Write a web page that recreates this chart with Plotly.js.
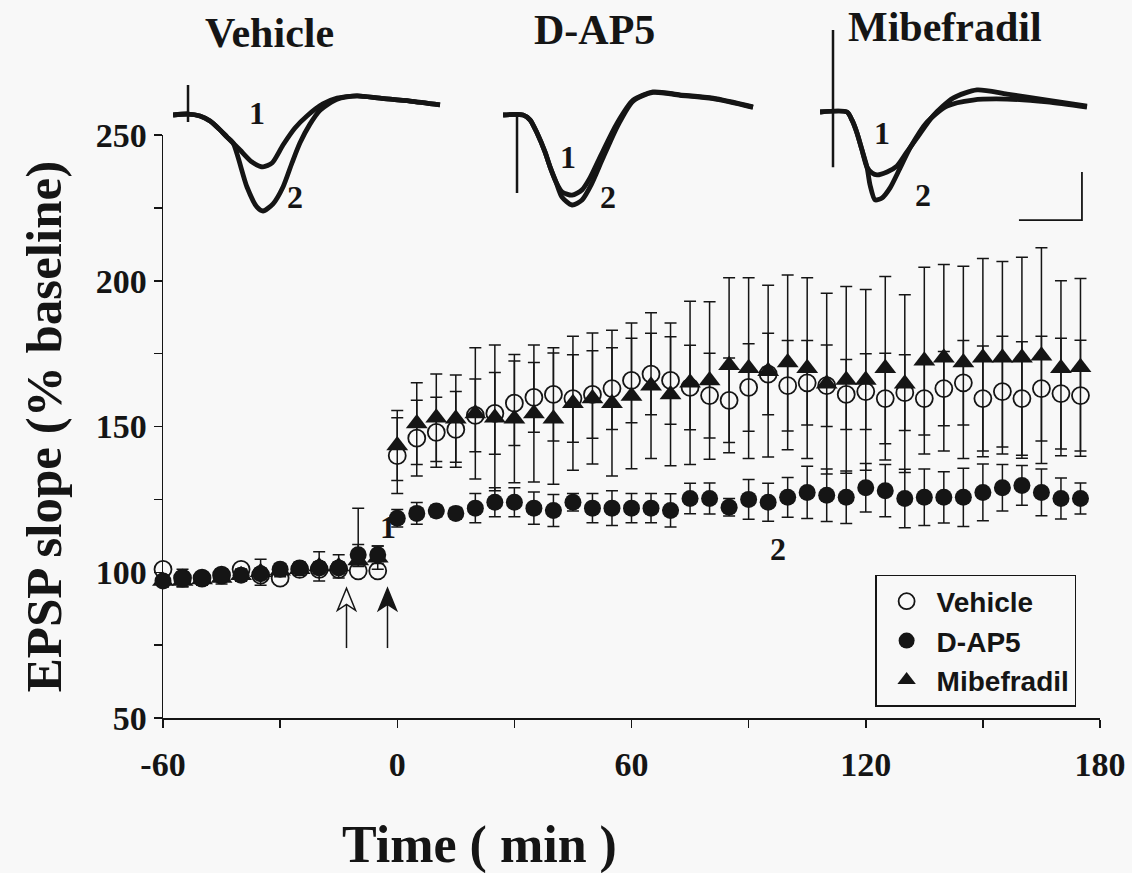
<!DOCTYPE html>
<html>
<head>
<meta charset="utf-8">
<script src="https://cdn.plot.ly/plotly-3.0.1.min.js"></script>
<style>
  html, body { margin: 0; padding: 0; background: #f8f8f8; }
  #chart { width: 1132px; height: 873px; }
</style>
</head>
<body>
<div id="chart"></div>
<script>
// Sampling times (min) relative to LTP induction
const timeMin = [-60, -55, -50, -45, -40, -35, -30, -25, -20, -15, -10, -5,
  0, 5, 10, 15, 20, 25, 30, 35, 40, 45, 50, 55, 60, 65, 70, 75, 80, 85, 90, 95,
  100, 105, 110, 115, 120, 125, 130, 135, 140, 145, 150, 155, 160, 165, 170, 175];

// EPSP slope, % of baseline (mean and SEM)
const vehicleMean = [101, 98, 98, 99, 101, 99, 98, 101, 101, 101, 100.5, 100.5,
  140, 146, 148, 149, 153.8, 154.5, 158, 160, 161, 159.6, 161, 163, 165.8, 168, 165.8, 163.4,
  160.6, 159, 163.4, 168, 164, 165, 164, 161, 162, 159.6, 161.6, 159.6, 163, 165, 159.6, 162,
  159.6, 163, 161.3, 160.6];
const vehicleSem = [2, 2, 2, 2, 2, 2, 2, 2, 2, 2, 2, 2,
  13, 13, 12, 13, 12.5, 14, 14.5, 12, 16, 15, 15, 14, 14.5, 14, 15, 14.5, 14.5, 14.5, 15, 14,
  15.5, 14.5, 14, 12, 13, 15.5, 13, 12.5, 12.7, 14.5, 18, 19, 19.5, 18, 19, 19];

const dap5Mean = [97, 98, 98, 99, 99, 99.5, 101, 101.5, 101.5, 101.5, 106, 106,
  118.5, 120.2, 121, 120.2, 122, 124, 124, 122, 121.2, 124, 122, 122, 122, 122, 121.2, 125.3,
  125.3, 122.3, 125, 124, 125.7, 127.4, 126.4, 125.7, 129, 128, 125.3, 125.7, 125.7, 125.7,
  127.4, 129, 129.8, 127.4, 125.3, 125.3];
const dap5Sem = [2, 3, 2, 2, 2, 2, 2, 2, 2, 2, 3.5, 3,
  3, 3.7, 2, 2, 5, 5, 5, 5.5, 5.5, 3, 5, 6, 5, 5, 5.7, 5.2, 5.3, 3, 6.8, 6.5, 6.8, 9, 9, 9,
  8.3, 9, 10, 9.7, 8.8, 10, 9.7, 8, 6.8, 8, 7, 5.3];

const mibefMean = [97, 97, 97.5, 98, 99, 100, 100.5, 101, 102, 102, 104, 105,
  143.5, 151, 153, 152.7, 154.5, 153, 152.7, 154.5, 152.7, 158, 159.6, 158, 160.5, 164, 161,
  165, 165.8, 171, 170, 169, 172, 170, 164.7, 166, 166, 170, 164.7, 172.6, 173.6, 172, 173.6,
  173.6, 173.6, 174.3, 170, 170.3];
// upper and lower SEM (the -10 min bar is drawn upward only)
const mibefSemUp = [2, 2, 2, 2, 2, 4.5, 2, 2, 5, 4, 18, 4,
  12, 14, 15, 15, 22.5, 25, 22, 23.5, 22.5, 23, 22.5, 25, 25, 25, 24.5, 28, 27, 30, 31, 29.5,
  30, 31, 31, 32, 31, 31.5, 30.5, 32, 32, 33, 34, 33, 34.5, 37, 30, 30.5];
const mibefSemDown = [2, 2, 2, 2, 2, 4.5, 2, 2, 5, 4, 2, 4,
  12, 14, 15, 15, 22.5, 25, 22, 23.5, 22.5, 23, 22.5, 25, 25, 25, 24.5, 28, 27, 30, 31, 29.5,
  30, 31, 31, 32, 31, 31.5, 30.5, 32, 32, 33, 34, 33, 34.5, 37, 30, 30.5];

// Axis tick labels
const xTickVals = [-60, 0, 60, 120, 180];
const xTickText = ['-60', '0', '60', '120', '180'];
const yTickVals = [50, 100, 150, 200, 250];

// Event markers: drug application (open arrow) and tetanus (filled arrow), min
const arrowTimes = [-13, -2.5];

// Example fEPSP sweeps (ms, mV): 1 = before, 2 = after induction
const vehSweep1Ms = [0, 1.19, 2.14, 2.94, 3.73, 4.29, 5.32, 6.27, 7.14, 7.86, 8.73, 9.68, 10.63, 11.9, 13.02, 14.6, 16.43, 18.81, 21.19];
const vehSweep1Mv = [0, 0.02, -0.02, -0.125, -0.31, -0.46, -0.73, -0.98, -1.08, -1.0, -0.625, -0.27, -0.02, 0.23, 0.35, 0.4, 0.35, 0.29, 0.21];
const vehSweep2Ms = [0, 1.19, 2.14, 2.94, 3.73, 4.29, 4.76, 5.87, 6.67, 7.14, 7.94, 8.73, 9.44, 10.08, 10.87, 11.67, 13.02, 14.6, 16.43, 18.81, 21.19];
const vehSweep2Mv = [0, 0.02, -0.02, -0.125, -0.31, -0.46, -0.58, -1.5, -1.92, -2.0, -1.85, -1.5, -1.0, -0.58, -0.19, 0.1, 0.33, 0.4, 0.35, 0.29, 0.21];
const vehArtifactMs = [1.19, 1.19];
const vehArtifactMv = [0.625, -0.146];

const dapSweep1Ms = [0, 1.59, 2.14, 2.7, 3.33, 3.73, 4.21, 4.68, 5.48, 6.27, 6.9, 7.7, 9.05, 10.32, 11.9, 14.05, 16.67, 19.84];
const dapSweep1Mv = [0, 0, -0.1, -0.375, -0.77, -1.08, -1.4, -1.6, -1.67, -1.56, -1.31, -0.875, -0.17, 0.31, 0.48, 0.42, 0.35, 0.17];
const dapSweep2Ms = [0, 1.59, 2.14, 2.7, 3.33, 3.73, 4.21, 4.68, 5.48, 6.27, 7.06, 7.86, 9.13, 10.32, 11.9, 14.05, 16.67, 19.84];
const dapSweep2Mv = [0, 0, -0.1, -0.375, -0.77, -1.08, -1.4, -1.71, -1.875, -1.77, -1.42, -0.94, -0.21, 0.29, 0.47, 0.41, 0.34, 0.16];
const dapArtifactMs = [1.11, 1.11];
const dapArtifactMv = [0, -1.625];

const mibSweep1Ms = [0, 2.14, 2.54, 2.94, 3.33, 3.73, 4.13, 4.52, 5.32, 6.11, 6.9, 7.7, 8.97, 10.56, 12.46, 14.84, 18.02, 21.19];
const mibSweep1Mv = [0, 0, -0.17, -0.44, -0.79, -1.15, -1.27, -1.31, -1.25, -1.125, -0.83, -0.54, -0.08, 0.29, 0.46, 0.375, 0.25, 0.125];
const mibSweep2Ms = [0, 2.14, 2.54, 2.94, 3.33, 3.73, 3.97, 4.37, 4.92, 5.56, 6.35, 7.14, 8.49, 10.08, 12.14, 14.84, 18.02, 21.19];
const mibSweep2Mv = [0, 0, -0.17, -0.44, -0.79, -1.15, -1.52, -1.83, -1.79, -1.58, -1.17, -0.75, -0.21, 0.125, 0.25, 0.27, 0.21, 0.1];
const mibArtifactMs = [1.03, 1.03];
const mibArtifactMv = [1.71, -1.15];

// Calibration bar: 5 ms, 1 mV
const scaleBarMs = 5;
const scaleBarMv = 1;
const scaleCornerMs = 20.79;
const scaleCornerMv = -2.25;

const INK = '#151515';
const BG = '#f8f8f8';
const SERIF = 'Liberation Serif, Times New Roman, serif';
const SANS = 'Liberation Sans, Arial, sans-serif';

function errBars(up, down) {
  const e = { type: 'data', array: up, visible: true, color: INK, thickness: 1.5, width: 6 };
  if (down) { e.symmetric = false; e.arrayminus = down; }
  return e;
}

const traces = [
  {
    name: 'Vehicle', x: timeMin, y: vehicleMean, error_y: errBars(vehicleSem),
    mode: 'markers', legendrank: 1, cliponaxis: false,
    marker: { symbol: 'circle', size: 17, color: BG, line: { color: INK, width: 1.8 } }
  },
  {
    name: 'Mibefradil', x: timeMin, y: mibefMean, error_y: errBars(mibefSemUp, mibefSemDown),
    mode: 'markers', legendrank: 3, cliponaxis: false,
    marker: { symbol: 'triangle-up', size: 19, color: INK, line: { width: 0 } }
  },
  {
    name: 'D-AP5', x: timeMin, y: dap5Mean, error_y: errBars(dap5Sem),
    mode: 'markers', legendrank: 2, cliponaxis: false,
    marker: { symbol: 'circle', size: 17, color: INK, line: { width: 0 } }
  }
];

// Inset sweeps
function sweep(xs, ys, ax, w) {
  return {
    x: xs, y: ys, xaxis: 'x' + ax, yaxis: 'y' + ax, mode: 'lines', showlegend: false,
    hoverinfo: 'skip', line: { color: INK, width: w, shape: 'spline', smoothing: 0.7 }
  };
}
function straight(xs, ys, ax, w) {
  return {
    x: xs, y: ys, xaxis: 'x' + ax, yaxis: 'y' + ax, mode: 'lines', showlegend: false,
    hoverinfo: 'skip', line: { color: INK, width: w }
  };
}
traces.push(
  sweep(vehSweep1Ms, vehSweep1Mv, 2, 4.8), sweep(vehSweep2Ms, vehSweep2Mv, 2, 4.8),
  straight(vehArtifactMs, vehArtifactMv, 2, 2.5),
  sweep(dapSweep1Ms, dapSweep1Mv, 3, 4.8), sweep(dapSweep2Ms, dapSweep2Mv, 3, 4.8),
  straight(dapArtifactMs, dapArtifactMv, 3, 2.5),
  sweep(mibSweep1Ms, mibSweep1Mv, 4, 4.8), sweep(mibSweep2Ms, mibSweep2Mv, 4, 4.8),
  straight(mibArtifactMs, mibArtifactMv, 4, 2.5),
  straight([scaleCornerMs - scaleBarMs, scaleCornerMs, scaleCornerMs],
           [scaleCornerMv, scaleCornerMv, scaleCornerMv + scaleBarMv], 4, 1.8)
);

function insetAxes(xDom, yDom, anchorX, anchorY) {
  return [
    { domain: xDom, range: [0, 22], visible: false, anchor: anchorY, fixedrange: true },
    { domain: yDom, range: [-2.5, 2.0], visible: false, anchor: anchorX, fixedrange: true }
  ];
}
const [x2, y2] = insetAxes([0.0107, 0.3065], [0.6822, 0.9873], 'x2', 'y2');
const [x3, y3] = insetAxes([0.3629, 0.6587], [0.6822, 0.9873], 'x3', 'y3');
const [x4, y4] = insetAxes([0.7012, 0.9970], [0.6864, 0.9915], 'x4', 'y4');

function label(text, x, y, xref, yref, size, family) {
  return {
    text: text, x: x, y: y, xref: xref, yref: yref, showarrow: false,
    xanchor: 'center', yanchor: 'middle',
    font: { family: family || SERIF, size: size, color: INK, weight: 'bold' }
  };
}

const annotations = [
  label('Vehicle', 0.114, 0.967, 'paper', 'paper', 42),
  label('D-AP5', 0.461, 0.972, 'paper', 'paper', 42),
  label('Mibefradil', 0.835, 0.976, 'paper', 'paper', 42),
  label('1', 6.67, 0.04, 'x2', 'y2', 32),
  label('2', 9.68, -1.71, 'x2', 'y2', 32),
  label('1', 5.16, -0.875, 'x3', 'y3', 32),
  label('2', 8.33, -1.71, 'x3', 'y3', 32),
  label('1', 4.92, -0.44, 'x4', 'y4', 32),
  label('2', 8.17, -1.73, 'x4', 'y4', 32),
  label('1', -2.3, 115.5, 'x', 'y', 32),
  label('2', 97.5, 108, 'x', 'y', 32),
  // x-axis title
  label('Time ( min )', 0.338, -0.18, 'paper', 'paper', 52)
];

// Arrows below the baseline points
const shapes = [];
arrowTimes.forEach(function (t, i) {
  shapes.push({
    type: 'line', xref: 'x', yref: 'y', x0: t, x1: t, y0: 74, y1: 90,
    line: { color: INK, width: 1.5 }
  });
  shapes.push({
    type: 'path', xref: 'x', yref: 'y', xsizemode: 'pixel', ysizemode: 'pixel',
    xanchor: t, yanchor: 94.5,
    path: 'M0,0 L-9,-22 L0,-16 L9,-22 Z',
    fillcolor: i === 0 ? BG : INK,
    line: { color: INK, width: 1.5 }
  });
});

const tickFont = { family: SERIF, size: 34, color: INK, weight: 'bold' };

const layout = {
  width: 1132, height: 873,
  margin: { l: 163, r: 32, t: 10, b: 155 },
  paper_bgcolor: BG, plot_bgcolor: 'rgba(0,0,0,0)',
  showlegend: true,
  legend: {
    x: 0.760, y: 0.202, xanchor: 'left', yanchor: 'top',
    bgcolor: BG, bordercolor: INK, borderwidth: 1.5,
    font: { family: SANS, size: 28, color: INK, weight: 'bold' },
    itemwidth: 50, tracegroupgap: 0
  },
  xaxis: {
    domain: [0, 1], range: [-60, 180], anchor: 'y',
    tickvals: xTickVals, ticktext: xTickText, ticks: 'outside', ticklen: 8, tickwidth: 1.5,
    tickcolor: INK, tickfont: tickFont, ticklabelstandoff: 8,
    minor: { tickvals: [-30, 30, 90, 150], ticks: 'outside', ticklen: 8, tickwidth: 1.5, tickcolor: INK },
    showline: true, linecolor: INK, linewidth: 1.5, zeroline: false, showgrid: false
  },
  yaxis: {
    domain: [0, 0.8234], range: [50, 250], anchor: 'x',
    tickvals: yTickVals, ticks: 'outside', ticklen: 8, tickwidth: 1.5,
    tickcolor: INK, tickfont: tickFont,
    minor: { tickvals: [75, 125, 175, 225], ticks: 'outside', ticklen: 8, tickwidth: 1.5, tickcolor: INK },
    showline: true, linecolor: INK, linewidth: 1.5, zeroline: false, showgrid: false,
    title: { text: 'EPSP slope (% baseline)', font: { family: SERIF, size: 51, color: INK, weight: 'bold' }, standoff: 18 }
  },
  xaxis2: x2, yaxis2: y2, xaxis3: x3, yaxis3: y3, xaxis4: x4, yaxis4: y4,
  annotations: annotations,
  shapes: shapes
};

Plotly.newPlot('chart', traces, layout, { staticPlot: true, displayModeBar: false });
</script>
</body>
</html>
